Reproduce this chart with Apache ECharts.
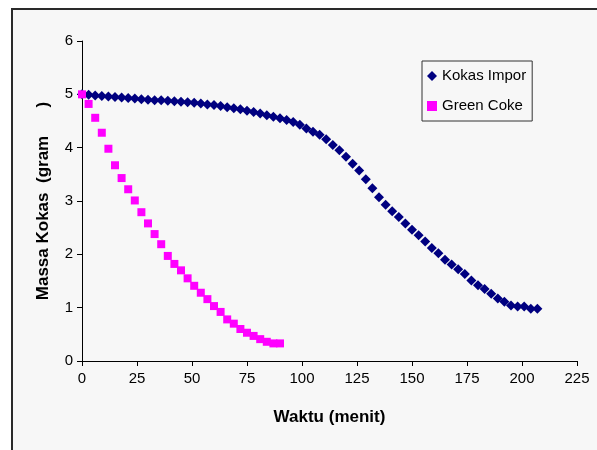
<!DOCTYPE html>
<html>
<head>
<meta charset="utf-8">
<script src="https://cdn.jsdelivr.net/npm/echarts@6/dist/echarts.min.js"></script>
<style>
  html, body { margin: 0; padding: 0; background: #fff; }
  #chart { width: 597px; height: 450px; }
</style>
</head>
<body>
<div id="chart"></div>
<script>
// waktu (menit) dan massa kokas (gram)
const kokasTime = [0, 3, 6, 9, 12, 15, 18, 21, 24, 27, 30, 33, 36, 39, 42, 45, 48, 51, 54, 57,
  60, 63, 66, 69, 72, 75, 78, 81, 84, 87, 90, 93, 96, 99, 102, 105, 108, 111, 114, 117,
  120, 123, 126, 129, 132, 135, 138, 141, 144, 147, 150, 153, 156, 159, 162, 165, 168, 171, 174, 177,
  180, 183, 186, 189, 192, 195, 198, 201, 204, 207];
const kokasMass = [5.00, 4.99, 4.98, 4.97, 4.96, 4.95, 4.94, 4.93, 4.92, 4.91, 4.90, 4.89, 4.89, 4.88, 4.87, 4.86, 4.85, 4.84, 4.83, 4.81,
  4.80, 4.78, 4.76, 4.74, 4.72, 4.69, 4.67, 4.64, 4.61, 4.58, 4.55, 4.52, 4.48, 4.43, 4.36, 4.30, 4.24, 4.16, 4.05, 3.95,
  3.83, 3.70, 3.57, 3.41, 3.24, 3.07, 2.93, 2.81, 2.70, 2.58, 2.46, 2.36, 2.24, 2.12, 2.02, 1.90, 1.81, 1.72, 1.63, 1.51,
  1.42, 1.35, 1.26, 1.17, 1.11, 1.04, 1.02, 1.02, 0.98, 0.98];

const greenTime = [0, 3, 6, 9, 12, 15, 18, 21, 24, 27, 30, 33, 36, 39, 42, 45, 48, 51, 54, 57,
  60, 63, 66, 69, 72, 75, 78, 81, 84, 87, 90];
const greenMass = [5.00, 4.82, 4.56, 4.28, 3.98, 3.67, 3.43, 3.22, 3.01, 2.79, 2.58, 2.38, 2.19, 1.97, 1.82, 1.70, 1.55, 1.41, 1.28, 1.16,
  1.03, 0.92, 0.78, 0.70, 0.60, 0.53, 0.47, 0.41, 0.36, 0.33, 0.33];

const seriesNames = ['Kokas Impor', 'Green Coke'];
const font = "'Liberation Sans', Arial, sans-serif";

const myChart = echarts.init(document.getElementById('chart'));
const option = {
  backgroundColor: '#fff',
  animation: false,
  textStyle: { fontFamily: font, color: '#000' },
  graphic: [{
    type: 'rect',
    z: -10,
    silent: true,
    shape: { x: 12, y: 9, width: 700, height: 700 },
    style: { fill: '#f7f7f7', stroke: '#2a2a2a', lineWidth: 2 }
  }],
  grid: { left: 82, right: 20, top: 41, bottom: 89 },
  legend: {
    orient: 'vertical',
    left: 422,
    top: 61,
    padding: [6, 6, 6, 5],
    itemGap: 12,
    itemWidth: 10,
    itemHeight: 10,
    borderColor: '#333',
    borderWidth: 1,
    backgroundColor: '#f7f7f7',
    borderRadius: 0,
    textStyle: { fontFamily: font, fontSize: 15, lineHeight: 18, color: '#000' },
    data: [
      { name: seriesNames[0], icon: 'diamond' },
      { name: seriesNames[1], icon: 'rect' }
    ]
  },
  xAxis: {
    type: 'value',
    min: 0,
    max: 225,
    interval: 25,
    name: 'Waktu (menit)',
    nameLocation: 'middle',
    nameGap: 48,
    nameTextStyle: { fontFamily: font, fontSize: 17, fontWeight: 'bold', color: '#000' },
    axisLine: { lineStyle: { color: '#000', width: 1 } },
    axisTick: { show: true, length: 5, lineStyle: { color: '#000' } },
    axisLabel: { margin: 10, fontFamily: font, fontSize: 15, color: '#000' },
    splitLine: { show: false }
  },
  yAxis: {
    type: 'value',
    min: 0,
    max: 6,
    interval: 1,
    name: 'Massa Kokas  (gram      )',
    nameLocation: 'middle',
    nameGap: 30,
    nameTextStyle: { fontFamily: font, fontSize: 17, fontWeight: 'bold', color: '#000' },
    axisLine: { show: true, lineStyle: { color: '#000', width: 1 } },
    axisTick: { show: true, length: 5, lineStyle: { color: '#000' } },
    axisLabel: { margin: 9, fontFamily: font, fontSize: 15, color: '#000' },
    splitLine: { show: false }
  },
  series: [
    {
      name: seriesNames[0],
      type: 'scatter',
      symbol: 'diamond',
      symbolSize: 10,
      itemStyle: { color: '#000080', opacity: 1 },
      data: kokasTime.map((t, i) => [t, kokasMass[i]])
    },
    {
      name: seriesNames[1],
      type: 'scatter',
      symbol: 'rect',
      symbolSize: 8,
      itemStyle: { color: '#ff00ff', opacity: 1 },
      data: greenTime.map((t, i) => [t, greenMass[i]])
    }
  ]
};
myChart.setOption(option);
</script>
</body>
</html>
